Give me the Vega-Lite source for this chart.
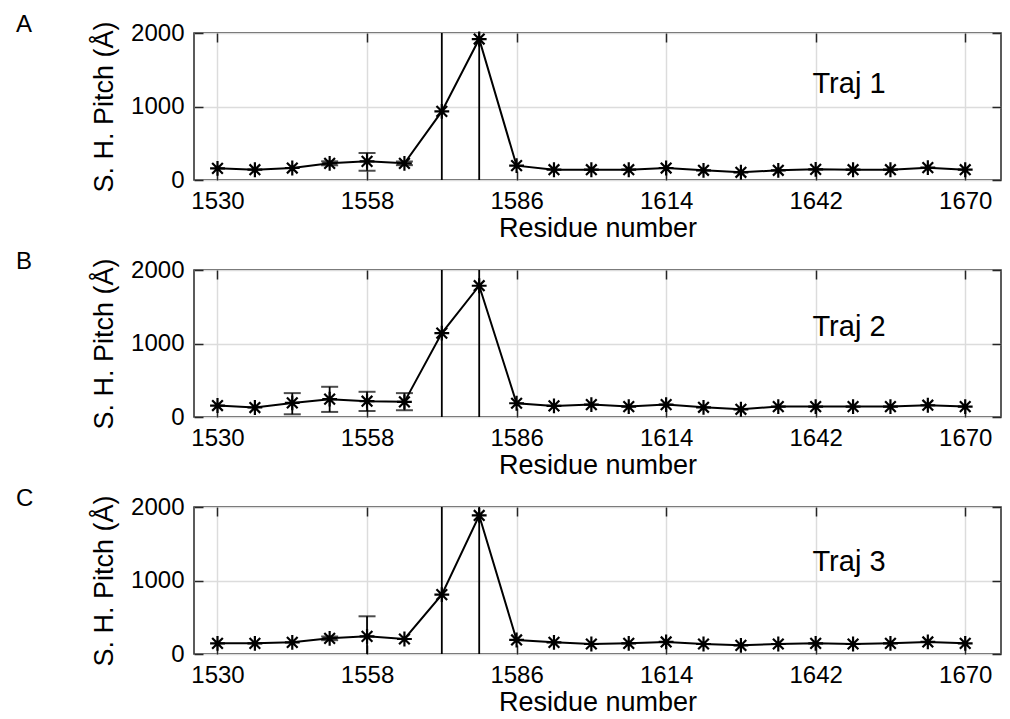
{
  "$schema": "https://vega.github.io/schema/vega-lite/v6.json",
  "background": "white",
  "padding": {"left": 15, "top": 12, "right": 5, "bottom": 5},
  "autosize": {"type": "pad"},
  "datasets": {
    "pts": [
      {"traj": 1, "res": 1530, "pitch": 159}, {"traj": 1, "res": 1537, "pitch": 140}, {"traj": 1, "res": 1544, "pitch": 163},
      {"traj": 1, "res": 1551, "pitch": 227}, {"traj": 1, "res": 1558, "pitch": 254}, {"traj": 1, "res": 1565, "pitch": 227},
      {"traj": 1, "res": 1572, "pitch": 934}, {"traj": 1, "res": 1579, "pitch": 1918}, {"traj": 1, "res": 1586, "pitch": 195},
      {"traj": 1, "res": 1593, "pitch": 140}, {"traj": 1, "res": 1600, "pitch": 140}, {"traj": 1, "res": 1607, "pitch": 140},
      {"traj": 1, "res": 1614, "pitch": 163}, {"traj": 1, "res": 1621, "pitch": 132}, {"traj": 1, "res": 1628, "pitch": 105},
      {"traj": 1, "res": 1635, "pitch": 132}, {"traj": 1, "res": 1642, "pitch": 145}, {"traj": 1, "res": 1649, "pitch": 140},
      {"traj": 1, "res": 1656, "pitch": 140}, {"traj": 1, "res": 1663, "pitch": 168}, {"traj": 1, "res": 1670, "pitch": 140},
      {"traj": 2, "res": 1530, "pitch": 156}, {"traj": 2, "res": 1537, "pitch": 129}, {"traj": 2, "res": 1544, "pitch": 192},
      {"traj": 2, "res": 1551, "pitch": 243}, {"traj": 2, "res": 1558, "pitch": 215}, {"traj": 2, "res": 1565, "pitch": 206},
      {"traj": 2, "res": 1572, "pitch": 1142}, {"traj": 2, "res": 1579, "pitch": 1786}, {"traj": 2, "res": 1586, "pitch": 187},
      {"traj": 2, "res": 1593, "pitch": 151}, {"traj": 2, "res": 1600, "pitch": 169}, {"traj": 2, "res": 1607, "pitch": 142},
      {"traj": 2, "res": 1614, "pitch": 169}, {"traj": 2, "res": 1621, "pitch": 132}, {"traj": 2, "res": 1628, "pitch": 105},
      {"traj": 2, "res": 1635, "pitch": 142}, {"traj": 2, "res": 1642, "pitch": 142}, {"traj": 2, "res": 1649, "pitch": 142},
      {"traj": 2, "res": 1656, "pitch": 142}, {"traj": 2, "res": 1663, "pitch": 160}, {"traj": 2, "res": 1670, "pitch": 142},
      {"traj": 3, "res": 1530, "pitch": 145}, {"traj": 3, "res": 1537, "pitch": 145}, {"traj": 3, "res": 1544, "pitch": 159},
      {"traj": 3, "res": 1551, "pitch": 213}, {"traj": 3, "res": 1558, "pitch": 240}, {"traj": 3, "res": 1565, "pitch": 204},
      {"traj": 3, "res": 1572, "pitch": 808}, {"traj": 3, "res": 1579, "pitch": 1885}, {"traj": 3, "res": 1586, "pitch": 191},
      {"traj": 3, "res": 1593, "pitch": 159}, {"traj": 3, "res": 1600, "pitch": 136}, {"traj": 3, "res": 1607, "pitch": 145},
      {"traj": 3, "res": 1614, "pitch": 164}, {"traj": 3, "res": 1621, "pitch": 136}, {"traj": 3, "res": 1628, "pitch": 118},
      {"traj": 3, "res": 1635, "pitch": 136}, {"traj": 3, "res": 1642, "pitch": 145}, {"traj": 3, "res": 1649, "pitch": 136},
      {"traj": 3, "res": 1656, "pitch": 145}, {"traj": 3, "res": 1663, "pitch": 164}, {"traj": 3, "res": 1670, "pitch": 145}
    ],
    "err": [
      {"traj": 1, "res": 1551, "lo": 200, "hi": 254},
      {"traj": 1, "res": 1558, "lo": 126, "hi": 367},
      {"traj": 1, "res": 1565, "lo": 202, "hi": 252},
      {"traj": 1, "res": 1572, "lo": -3000, "hi": 5000},
      {"traj": 1, "res": 1579, "lo": -3000, "hi": 5000},
      {"traj": 2, "res": 1544, "lo": 37, "hi": 325},
      {"traj": 2, "res": 1551, "lo": 69, "hi": 411},
      {"traj": 2, "res": 1558, "lo": 82, "hi": 343},
      {"traj": 2, "res": 1565, "lo": 92, "hi": 325},
      {"traj": 2, "res": 1572, "lo": -3000, "hi": 5000},
      {"traj": 2, "res": 1579, "lo": -3000, "hi": 5000},
      {"traj": 3, "res": 1551, "lo": 188, "hi": 238},
      {"traj": 3, "res": 1558, "lo": -40, "hi": 513},
      {"traj": 3, "res": 1572, "lo": -3000, "hi": 5000},
      {"traj": 3, "res": 1579, "lo": -3000, "hi": 5000}
    ],
    "labels": [
      {"traj": 1, "res": 1641.4, "val": 1306, "text": "Traj 1"},
      {"traj": 2, "res": 1641.4, "val": 1229, "text": "Traj 2"},
      {"traj": 3, "res": 1641.4, "val": 1248, "text": "Traj 3"}
    ]
  },
  "vconcat": [
    {
      "title": {"text": "A", "anchor": "start", "frame": "group", "dx": -178, "dy": 20, "fontSize": 24, "fontWeight": "normal", "font": "Liberation Sans", "color": "black"},
      "width": 807, "height": 147,
      "layer": [
        {
          "layer": [
            {"data": {"name": "pts"}, "transform": [{"filter": "datum.traj == 1"}],
             "mark": {"type": "line", "color": "black", "strokeWidth": 2},
             "encoding": {"x": {"field": "res", "type": "quantitative", "scale": {"domain": [1525.6, 1676.7], "nice": false, "zero": false},
                                "axis": {"title": "Residue number", "values": [1530, 1558, 1586, 1614, 1642, 1670], "grid": true}},
                          "y": {"field": "pitch", "type": "quantitative", "scale": {"domain": [0, 2000], "nice": false},
                                "axis": {"title": "S. H. Pitch (Å)", "values": [0, 1000, 2000], "grid": true}}}},
            {"data": {"name": "err"}, "transform": [{"filter": "datum.traj == 1"}],
             "mark": {"type": "rule", "clip": true, "strokeWidth": 1.8, "color": "black"},
             "encoding": {"x": {"field": "res", "type": "quantitative", "scale": {"domain": [1525.6, 1676.7], "nice": false, "zero": false},
                                "axis": {"title": "Residue number", "values": [1530, 1558, 1586, 1614, 1642, 1670], "grid": true}},
                          "y": {"field": "lo", "type": "quantitative", "scale": {"domain": [0, 2000], "nice": false},
                                "axis": {"title": "S. H. Pitch (Å)", "values": [0, 1000, 2000], "grid": true}},
                          "y2": {"field": "hi"}}},
            {"data": {"name": "err"}, "transform": [{"filter": "datum.traj == 1"}],
             "mark": {"type": "tick", "clip": true, "orient": "horizontal", "size": 17, "thickness": 2, "color": "black"},
             "encoding": {"x": {"field": "res", "type": "quantitative", "scale": {"domain": [1525.6, 1676.7], "nice": false, "zero": false},
                                "axis": {"title": "Residue number", "values": [1530, 1558, 1586, 1614, 1642, 1670], "grid": true}},
                          "y": {"field": "lo", "type": "quantitative", "scale": {"domain": [0, 2000], "nice": false},
                                "axis": {"title": "S. H. Pitch (Å)", "values": [0, 1000, 2000], "grid": true}}}},
            {"data": {"name": "err"}, "transform": [{"filter": "datum.traj == 1"}],
             "mark": {"type": "tick", "clip": true, "orient": "horizontal", "size": 17, "thickness": 2, "color": "black"},
             "encoding": {"x": {"field": "res", "type": "quantitative", "scale": {"domain": [1525.6, 1676.7], "nice": false, "zero": false},
                                "axis": {"title": "Residue number", "values": [1530, 1558, 1586, 1614, 1642, 1670], "grid": true}},
                          "y": {"field": "hi", "type": "quantitative", "scale": {"domain": [0, 2000], "nice": false},
                                "axis": {"title": "S. H. Pitch (Å)", "values": [0, 1000, 2000], "grid": true}}}},
            {"data": {"name": "pts"}, "transform": [{"filter": "datum.traj == 1"}],
             "mark": {"type": "point", "shape": "M0,-1L0,1M-1,0L1,0M-0.72,-0.72L0.72,0.72M-0.72,0.72L0.72,-0.72", "filled": false, "stroke": "black", "strokeWidth": 2.2, "size": 220, "opacity": 1},
             "encoding": {"x": {"field": "res", "type": "quantitative", "scale": {"domain": [1525.6, 1676.7], "nice": false, "zero": false},
                                "axis": {"title": "Residue number", "values": [1530, 1558, 1586, 1614, 1642, 1670], "grid": true}},
                          "y": {"field": "pitch", "type": "quantitative", "scale": {"domain": [0, 2000], "nice": false},
                                "axis": {"title": "S. H. Pitch (Å)", "values": [0, 1000, 2000], "grid": true}}}},
            {"data": {"name": "labels"}, "transform": [{"filter": "datum.traj == 1"}],
             "mark": {"type": "text", "align": "left", "baseline": "middle", "fontSize": 29, "font": "Liberation Sans", "color": "black"},
             "encoding": {"x": {"field": "res", "type": "quantitative", "scale": {"domain": [1525.6, 1676.7], "nice": false, "zero": false},
                                "axis": {"title": "Residue number", "values": [1530, 1558, 1586, 1614, 1642, 1670], "grid": true}},
                          "y": {"field": "val", "type": "quantitative", "scale": {"domain": [0, 2000], "nice": false},
                                "axis": {"title": "S. H. Pitch (Å)", "values": [0, 1000, 2000], "grid": true}},
                          "text": {"field": "text"}}}
          ]
        },
        {"data": {"name": "pts"}, "transform": [{"filter": "datum.traj == 1"}],
         "mark": {"type": "point", "opacity": 0},
         "encoding": {"x": {"field": "res", "type": "quantitative", "scale": {"domain": [1525.6, 1676.7], "nice": false, "zero": false},
                            "axis": {"orient": "top", "values": [1530, 1558, 1586, 1614, 1642, 1670], "labels": false, "grid": false, "title": null}},
                      "y": {"field": "pitch", "type": "quantitative", "scale": {"domain": [0, 2000], "nice": false},
                            "axis": {"orient": "right", "values": [0, 1000, 2000], "labels": false, "grid": false, "title": null}}}}
      ],
      "resolve": {"axis": {"x": "independent", "y": "independent"}}
    },
    {
      "title": {"text": "B", "anchor": "start", "frame": "group", "dx": -178, "dy": 20, "fontSize": 24, "fontWeight": "normal", "font": "Liberation Sans", "color": "black"},
      "width": 807, "height": 147,
      "layer": [
        {
          "layer": [
            {"data": {"name": "pts"}, "transform": [{"filter": "datum.traj == 2"}],
             "mark": {"type": "line", "color": "black", "strokeWidth": 2},
             "encoding": {"x": {"field": "res", "type": "quantitative", "scale": {"domain": [1525.6, 1676.7], "nice": false, "zero": false},
                                "axis": {"title": "Residue number", "values": [1530, 1558, 1586, 1614, 1642, 1670], "grid": true}},
                          "y": {"field": "pitch", "type": "quantitative", "scale": {"domain": [0, 2000], "nice": false},
                                "axis": {"title": "S. H. Pitch (Å)", "values": [0, 1000, 2000], "grid": true}}}},
            {"data": {"name": "err"}, "transform": [{"filter": "datum.traj == 2"}],
             "mark": {"type": "rule", "clip": true, "strokeWidth": 1.8, "color": "black"},
             "encoding": {"x": {"field": "res", "type": "quantitative", "scale": {"domain": [1525.6, 1676.7], "nice": false, "zero": false},
                                "axis": {"title": "Residue number", "values": [1530, 1558, 1586, 1614, 1642, 1670], "grid": true}},
                          "y": {"field": "lo", "type": "quantitative", "scale": {"domain": [0, 2000], "nice": false},
                                "axis": {"title": "S. H. Pitch (Å)", "values": [0, 1000, 2000], "grid": true}},
                          "y2": {"field": "hi"}}},
            {"data": {"name": "err"}, "transform": [{"filter": "datum.traj == 2"}],
             "mark": {"type": "tick", "clip": true, "orient": "horizontal", "size": 17, "thickness": 2, "color": "black"},
             "encoding": {"x": {"field": "res", "type": "quantitative", "scale": {"domain": [1525.6, 1676.7], "nice": false, "zero": false},
                                "axis": {"title": "Residue number", "values": [1530, 1558, 1586, 1614, 1642, 1670], "grid": true}},
                          "y": {"field": "lo", "type": "quantitative", "scale": {"domain": [0, 2000], "nice": false},
                                "axis": {"title": "S. H. Pitch (Å)", "values": [0, 1000, 2000], "grid": true}}}},
            {"data": {"name": "err"}, "transform": [{"filter": "datum.traj == 2"}],
             "mark": {"type": "tick", "clip": true, "orient": "horizontal", "size": 17, "thickness": 2, "color": "black"},
             "encoding": {"x": {"field": "res", "type": "quantitative", "scale": {"domain": [1525.6, 1676.7], "nice": false, "zero": false},
                                "axis": {"title": "Residue number", "values": [1530, 1558, 1586, 1614, 1642, 1670], "grid": true}},
                          "y": {"field": "hi", "type": "quantitative", "scale": {"domain": [0, 2000], "nice": false},
                                "axis": {"title": "S. H. Pitch (Å)", "values": [0, 1000, 2000], "grid": true}}}},
            {"data": {"name": "pts"}, "transform": [{"filter": "datum.traj == 2"}],
             "mark": {"type": "point", "shape": "M0,-1L0,1M-1,0L1,0M-0.72,-0.72L0.72,0.72M-0.72,0.72L0.72,-0.72", "filled": false, "stroke": "black", "strokeWidth": 2.2, "size": 220, "opacity": 1},
             "encoding": {"x": {"field": "res", "type": "quantitative", "scale": {"domain": [1525.6, 1676.7], "nice": false, "zero": false},
                                "axis": {"title": "Residue number", "values": [1530, 1558, 1586, 1614, 1642, 1670], "grid": true}},
                          "y": {"field": "pitch", "type": "quantitative", "scale": {"domain": [0, 2000], "nice": false},
                                "axis": {"title": "S. H. Pitch (Å)", "values": [0, 1000, 2000], "grid": true}}}},
            {"data": {"name": "labels"}, "transform": [{"filter": "datum.traj == 2"}],
             "mark": {"type": "text", "align": "left", "baseline": "middle", "fontSize": 29, "font": "Liberation Sans", "color": "black"},
             "encoding": {"x": {"field": "res", "type": "quantitative", "scale": {"domain": [1525.6, 1676.7], "nice": false, "zero": false},
                                "axis": {"title": "Residue number", "values": [1530, 1558, 1586, 1614, 1642, 1670], "grid": true}},
                          "y": {"field": "val", "type": "quantitative", "scale": {"domain": [0, 2000], "nice": false},
                                "axis": {"title": "S. H. Pitch (Å)", "values": [0, 1000, 2000], "grid": true}},
                          "text": {"field": "text"}}}
          ]
        },
        {"data": {"name": "pts"}, "transform": [{"filter": "datum.traj == 2"}],
         "mark": {"type": "point", "opacity": 0},
         "encoding": {"x": {"field": "res", "type": "quantitative", "scale": {"domain": [1525.6, 1676.7], "nice": false, "zero": false},
                            "axis": {"orient": "top", "values": [1530, 1558, 1586, 1614, 1642, 1670], "labels": false, "grid": false, "title": null}},
                      "y": {"field": "pitch", "type": "quantitative", "scale": {"domain": [0, 2000], "nice": false},
                            "axis": {"orient": "right", "values": [0, 1000, 2000], "labels": false, "grid": false, "title": null}}}}
      ],
      "resolve": {"axis": {"x": "independent", "y": "independent"}}
    },
    {
      "title": {"text": "C", "anchor": "start", "frame": "group", "dx": -178, "dy": 20, "fontSize": 24, "fontWeight": "normal", "font": "Liberation Sans", "color": "black"},
      "width": 807, "height": 147,
      "layer": [
        {
          "layer": [
            {"data": {"name": "pts"}, "transform": [{"filter": "datum.traj == 3"}],
             "mark": {"type": "line", "color": "black", "strokeWidth": 2},
             "encoding": {"x": {"field": "res", "type": "quantitative", "scale": {"domain": [1525.6, 1676.7], "nice": false, "zero": false},
                                "axis": {"title": "Residue number", "values": [1530, 1558, 1586, 1614, 1642, 1670], "grid": true}},
                          "y": {"field": "pitch", "type": "quantitative", "scale": {"domain": [0, 2000], "nice": false},
                                "axis": {"title": "S. H. Pitch (Å)", "values": [0, 1000, 2000], "grid": true}}}},
            {"data": {"name": "err"}, "transform": [{"filter": "datum.traj == 3"}],
             "mark": {"type": "rule", "clip": true, "strokeWidth": 1.8, "color": "black"},
             "encoding": {"x": {"field": "res", "type": "quantitative", "scale": {"domain": [1525.6, 1676.7], "nice": false, "zero": false},
                                "axis": {"title": "Residue number", "values": [1530, 1558, 1586, 1614, 1642, 1670], "grid": true}},
                          "y": {"field": "lo", "type": "quantitative", "scale": {"domain": [0, 2000], "nice": false},
                                "axis": {"title": "S. H. Pitch (Å)", "values": [0, 1000, 2000], "grid": true}},
                          "y2": {"field": "hi"}}},
            {"data": {"name": "err"}, "transform": [{"filter": "datum.traj == 3"}],
             "mark": {"type": "tick", "clip": true, "orient": "horizontal", "size": 17, "thickness": 2, "color": "black"},
             "encoding": {"x": {"field": "res", "type": "quantitative", "scale": {"domain": [1525.6, 1676.7], "nice": false, "zero": false},
                                "axis": {"title": "Residue number", "values": [1530, 1558, 1586, 1614, 1642, 1670], "grid": true}},
                          "y": {"field": "lo", "type": "quantitative", "scale": {"domain": [0, 2000], "nice": false},
                                "axis": {"title": "S. H. Pitch (Å)", "values": [0, 1000, 2000], "grid": true}}}},
            {"data": {"name": "err"}, "transform": [{"filter": "datum.traj == 3"}],
             "mark": {"type": "tick", "clip": true, "orient": "horizontal", "size": 17, "thickness": 2, "color": "black"},
             "encoding": {"x": {"field": "res", "type": "quantitative", "scale": {"domain": [1525.6, 1676.7], "nice": false, "zero": false},
                                "axis": {"title": "Residue number", "values": [1530, 1558, 1586, 1614, 1642, 1670], "grid": true}},
                          "y": {"field": "hi", "type": "quantitative", "scale": {"domain": [0, 2000], "nice": false},
                                "axis": {"title": "S. H. Pitch (Å)", "values": [0, 1000, 2000], "grid": true}}}},
            {"data": {"name": "pts"}, "transform": [{"filter": "datum.traj == 3"}],
             "mark": {"type": "point", "shape": "M0,-1L0,1M-1,0L1,0M-0.72,-0.72L0.72,0.72M-0.72,0.72L0.72,-0.72", "filled": false, "stroke": "black", "strokeWidth": 2.2, "size": 220, "opacity": 1},
             "encoding": {"x": {"field": "res", "type": "quantitative", "scale": {"domain": [1525.6, 1676.7], "nice": false, "zero": false},
                                "axis": {"title": "Residue number", "values": [1530, 1558, 1586, 1614, 1642, 1670], "grid": true}},
                          "y": {"field": "pitch", "type": "quantitative", "scale": {"domain": [0, 2000], "nice": false},
                                "axis": {"title": "S. H. Pitch (Å)", "values": [0, 1000, 2000], "grid": true}}}},
            {"data": {"name": "labels"}, "transform": [{"filter": "datum.traj == 3"}],
             "mark": {"type": "text", "align": "left", "baseline": "middle", "fontSize": 29, "font": "Liberation Sans", "color": "black"},
             "encoding": {"x": {"field": "res", "type": "quantitative", "scale": {"domain": [1525.6, 1676.7], "nice": false, "zero": false},
                                "axis": {"title": "Residue number", "values": [1530, 1558, 1586, 1614, 1642, 1670], "grid": true}},
                          "y": {"field": "val", "type": "quantitative", "scale": {"domain": [0, 2000], "nice": false},
                                "axis": {"title": "S. H. Pitch (Å)", "values": [0, 1000, 2000], "grid": true}},
                          "text": {"field": "text"}}}
          ]
        },
        {"data": {"name": "pts"}, "transform": [{"filter": "datum.traj == 3"}],
         "mark": {"type": "point", "opacity": 0},
         "encoding": {"x": {"field": "res", "type": "quantitative", "scale": {"domain": [1525.6, 1676.7], "nice": false, "zero": false},
                            "axis": {"orient": "top", "values": [1530, 1558, 1586, 1614, 1642, 1670], "labels": false, "grid": false, "title": null}},
                      "y": {"field": "pitch", "type": "quantitative", "scale": {"domain": [0, 2000], "nice": false},
                            "axis": {"orient": "right", "values": [0, 1000, 2000], "labels": false, "grid": false, "title": null}}}}
      ],
      "resolve": {"axis": {"x": "independent", "y": "independent"}}
    }
  ],
  "spacing": 90,
  "bounds": "flush",
  "config": {
    "font": "Liberation Sans",
    "numberFormat": "d",
    "view": {"stroke": "#262626", "strokeWidth": 1.5},
    "axis": {
      "labelFont": "Liberation Sans", "labelFontSize": 24, "labelColor": "black",
      "titleFont": "Liberation Sans", "titleFontSize": 27, "titleFontWeight": "normal", "titleColor": "black",
      "domain": false, "tickColor": "#262626", "tickSize": -9, "tickWidth": 1.5,
      "gridColor": "#dcdcdc", "gridWidth": 1.5
    },
    "axisX": {"labelPadding": 18, "titlePadding": 2},
    "axisY": {"labelPadding": 19, "titlePadding": 12}
  }
}
